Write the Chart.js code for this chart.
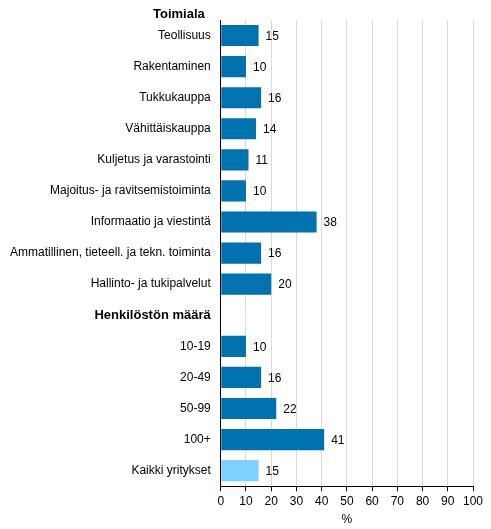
<!DOCTYPE html>
<html>
<head>
<meta charset="utf-8">
<script src="https://cdn.jsdelivr.net/npm/chart.js@4/dist/chart.umd.min.js"></script>
<style>
  html, body { margin: 0; padding: 0; background: #fff; }
  #wrap { width: 491px; height: 529px; }
</style>
</head>
<body>
<div id="wrap"><canvas id="chart" width="491" height="529"></canvas></div>
<script>
// otsikko kaavion yläpuolella
const topHeader = 'Toimiala';

// luokat (väliotsikko ilman arvoa)
const categories = [
  'Teollisuus',
  'Rakentaminen',
  'Tukkukauppa',
  'Vähittäiskauppa',
  'Kuljetus ja varastointi',
  'Majoitus- ja ravitsemistoiminta',
  'Informaatio ja viestintä',
  'Ammatillinen, tieteell. ja tekn. toiminta',
  'Hallinto- ja tukipalvelut',
  'Henkilöstön määrä',
  '10-19',
  '20-49',
  '50-99',
  '100+',
  'Kaikki yritykset'
];
const headers = ['Henkilöstön määrä'];

const values = [15, 10, 16, 14, 11, 10, 38, 16, 20, null, 10, 16, 22, 41, 15];
const totalLabel = 'Kaikki yritykset';

const xTicks = [0, 10, 20, 30, 40, 50, 60, 70, 80, 90, 100];
const xTitle = '%';

const darkBlue = '#0072b0';
const lightBlue = '#7dd0ff';

const font = 'Liberation Sans, Arial, sans-serif';

// arvot palkkien perään + ylin otsikko
const labelPlugin = {
  id: 'labels',
  afterDatasetsDraw(chart) {
    const ctx = chart.ctx;
    const meta = chart.getDatasetMeta(0);
    ctx.save();
    ctx.font = '12px ' + font;
    ctx.fillStyle = '#000';
    ctx.textBaseline = 'middle';
    ctx.textAlign = 'left';
    meta.data.forEach(function(bar, i) {
      const v = values[i];
      if (v === null) return;
      ctx.fillText(String(v), bar.x + 7, bar.y + 1);
    });
    const yScale = chart.scales.y;
    ctx.font = 'bold 13px ' + font;
    ctx.textAlign = 'right';
    ctx.fillText(topHeader, yScale.right - 16, chart.chartArea.top - 6);
    ctx.restore();
  }
};

const ctx = document.getElementById('chart').getContext('2d');
new Chart(ctx, {
  type: 'bar',
  data: {
    labels: categories,
    datasets: [{
      data: values,
      backgroundColor: categories.map(c => c === totalLabel ? lightBlue : darkBlue),
      borderWidth: 0,
      barPercentage: 1,
      categoryPercentage: 0.68
    }]
  },
  options: {
    indexAxis: 'y',
    responsive: false,
    animation: false,
    devicePixelRatio: 1,
    layout: { padding: { top: 20, right: 18, bottom: 2, left: 0 } },
    plugins: {
      legend: { display: false },
      tooltip: { enabled: false }
    },
    scales: {
      x: {
        min: 0,
        max: 100,
        afterBuildTicks(scale) {
          scale.ticks = xTicks.map(v => ({ value: v }));
        },
        grid: {
          color: '#d9d9d9',
          lineWidth: 1,
          drawTicks: true,
          tickLength: 5,
          tickColor: '#000'
        },
        border: { display: true, color: '#000', width: 1 },
        ticks: {
          color: '#000',
          font: { family: font, size: 12 },
          padding: 3,
          maxRotation: 0
        },
        title: {
          display: true,
          text: xTitle,
          color: '#000',
          font: { family: font, size: 12 },
          padding: { top: 1, bottom: 0 }
        }
      },
      y: {
        grid: { display: false, drawTicks: false },
        border: { display: true, color: '#000', width: 1 },
        ticks: {
          color: '#000',
          padding: 10,
          autoSkip: false,
          font: function(c) {
            const lbl = categories[c.index];
            return headers.includes(lbl)
              ? { family: font, size: 13, weight: 'bold' }
              : { family: font, size: 12 };
          }
        }
      }
    }
  },
  plugins: [labelPlugin]
});
</script>
</body>
</html>
